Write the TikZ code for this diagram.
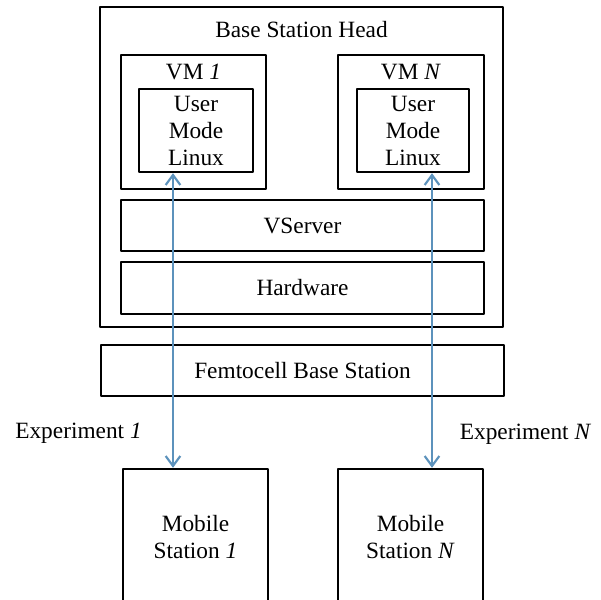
\documentclass[tikz,border=0pt]{standalone}
\usepackage{fontspec}
\setmainfont{Liberation Serif}
\usetikzlibrary{arrows.meta,fit}
\definecolor{linkblue}{RGB}{92,146,188}

\begin{document}
\begin{tikzpicture}[x=0.75pt, y=-0.75pt, line join=round,
	box/.style={draw, line width=1.8pt, inner sep=0pt, align=center,
		font=\fontsize{17.5}{20.25}\selectfont},
	lbl/.style={inner sep=0pt, align=center, font=\fontsize{17.5}{20.25}\selectfont},
	link/.style={linkblue, line width=1.6pt,
		{Straight Barb[length=7.5pt,width=11pt]}-{Straight Barb[length=7.5pt,width=11pt]}}]
		\useasboundingbox (0,0) rectangle (601,600);
		% base station head and its layers
		\node[box, fit={(100,7) (503,327)}] (bsh) {};
		\node[lbl] (bshtitle) at (301.5,30) {Base Station Head};
		\node[box, fit={(121,55) (266,189)}] (vm1) {};
		\node[box, fit={(338,55) (484,189)}] (vmN) {};
		\node[lbl] (vm1title) at (193.5,72) {VM \textit{1}};
		\node[lbl] (vmNtitle) at (411,72) {VM \textit{N}};
		\node[box, fit={(139,89) (253,172)}] (uml1) {};
		\node[box, fit={(357,89) (469,172)}] (umlN) {};
		\node[lbl] (uml1text) at (uml1) {User\\Mode\\Linux};
		\node[lbl] (umlNtext) at (umlN) {User\\Mode\\Linux};
		\node[box, fit={(121,200) (484,251)}] (vserver) {};
		\node[lbl] (vservertext) at (vserver) {VServer};
		\node[box, fit={(121,262) (484,314)}] (hw) {};
		\node[lbl] (hwtext) at (hw) {Hardware};
		% femtocell and mobiles
		\node[box, fit={(101,345) (504,396)}] (femto) {};
		\node[lbl] (femtotext) at (femto) {Femtocell Base Station};
		\node[box, fit={(123,469) (268,606)}] (ms1) {};
		\node[box, fit={(338,469) (483,606)}] (msN) {};
		\node[lbl] (ms1text) at (ms1) {Mobile\\Station \textit{1}};
		\node[lbl] (msNtext) at (msN) {Mobile\\Station \textit{N}};
		% experiments
		\path (173,0) coordinate (ax1)
		(432,0) coordinate (axN);
		\draw[link] (uml1.south -| ax1) -- (ms1.north -| ax1);
		\draw[link] (umlN.south -| axN) -- (msN.north -| axN);
		\node[lbl] (exp1) at (78.5,433) {Experiment \textit{1}};
		\node[lbl] (expN) at (525.5,434) {Experiment \textit{N}};
	\end{tikzpicture}
\end{document}
